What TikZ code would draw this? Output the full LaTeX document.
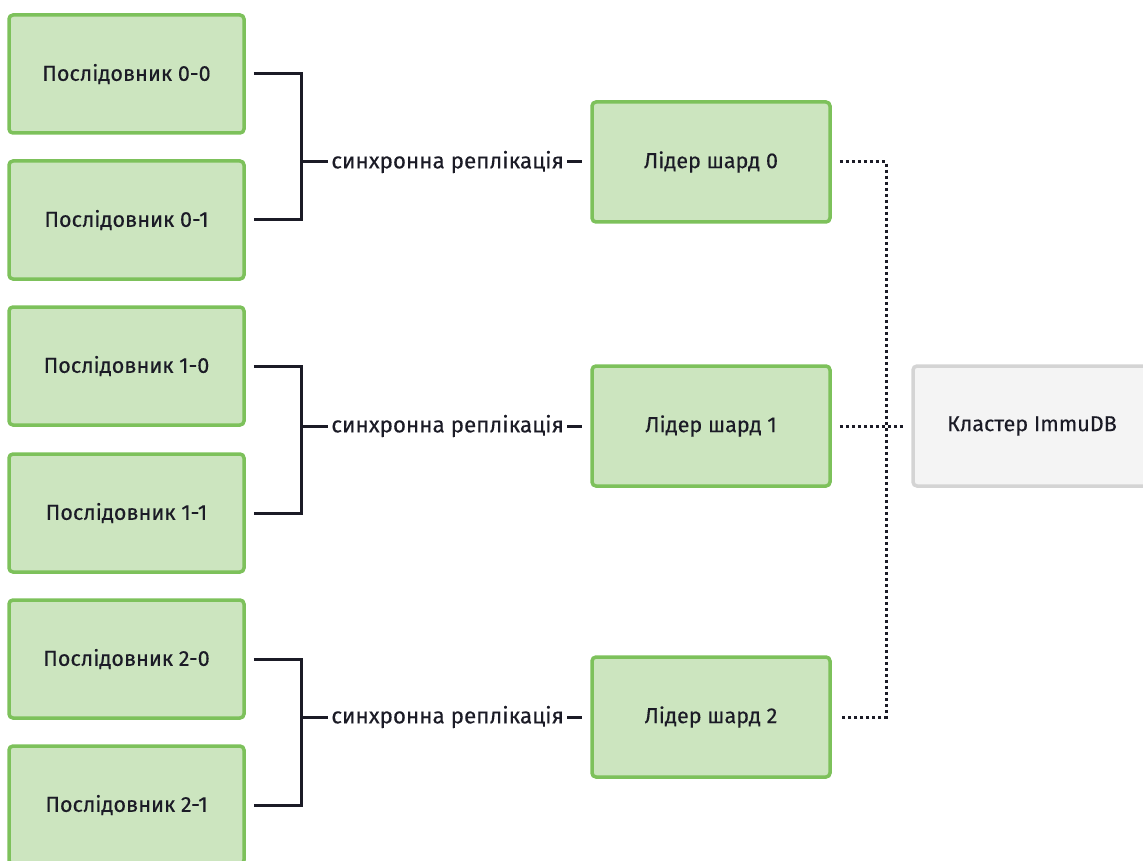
\documentclass[tikz,border=0pt]{standalone}
\usepackage{fontspec}
\setmainfont{Fira Sans}[FakeBold=0.25]
\definecolor{gfill}{HTML}{CCE5BF}
\definecolor{gdraw}{HTML}{7DC15B}
\definecolor{cfill}{HTML}{F4F4F4}
\definecolor{cdraw}{HTML}{D4D4D4}
\definecolor{ink}{HTML}{1B1B26}
\tikzset{
  gbox/.style={draw=gdraw, fill=gfill, line width=3.5pt, rounded corners=4pt, minimum width=235pt, minimum height=118pt, inner sep=0pt, text=ink, font=\fontsize{21.6}{26}\selectfont},
  lbox/.style={gbox, minimum width=238pt, minimum height=120pt},
  cbox/.style={draw=cdraw, fill=cfill, line width=3.5pt, rounded corners=4pt, minimum width=238pt, minimum height=120pt, inner sep=0pt, text=ink, font=\fontsize{21.6}{26}\selectfont},
  conn/.style={draw=ink, line width=3pt},
  dotline/.style={draw=ink, line width=3pt, dash pattern=on 3pt off 3pt},
  lab/.style={fill=white, inner sep=3pt, text=ink, font=\fontsize{22.4}{26}\selectfont}
}
\begin{document}
\begin{tikzpicture}[x=1pt,y=-1pt]
\useasboundingbox (0,0) rectangle (1143,861);
\clip (0,0) rectangle (1143,861);
\node[gbox] (f00) at (126.5,74) {Послідовник 0-0};
\node[gbox] (f01) at (126.5,220) {Послідовник 0-1};
\node[gbox] (f10) at (126.5,366) {Послідовник 1-0};
\node[gbox] (f11) at (126.5,513) {Послідовник 1-1};
\node[gbox] (f20) at (126.5,659) {Послідовник 2-0};
\node[gbox] (f21) at (126.5,805) {Послідовник 2-1};
\node[lbox] (l0) at (711,162) {Лідер шард 0};
\node[lbox] (l1) at (711,426) {Лідер шард 1};
\node[lbox] (l2) at (711,717) {Лідер шард 2};
\node[cbox] (cl) at (1032,426) {Кластер ImmuDB};
\coordinate (b0) at (301,162);
\coordinate (b1) at (301,426);
\coordinate (b2) at (301,717);
\coordinate (j) at (886,426);
\draw[conn] ([xshift=8pt]f00.east) -| (b0) |- ([xshift=8pt]f01.east);
\draw[conn] ([xshift=8pt]f10.east) -| (b1) |- ([xshift=8pt]f11.east);
\draw[conn] ([xshift=8pt]f20.east) -| (b2) |- ([xshift=8pt]f21.east);
\draw[conn] (b0) -- node[lab, xshift=6pt]{синхронна реплікація} ([xshift=-8pt]l0.west);
\draw[conn] (b1) -- node[lab, xshift=6pt]{синхронна реплікація} ([xshift=-8pt]l1.west);
\draw[conn] (b2) -- node[lab, xshift=6pt]{синхронна реплікація} ([xshift=-8pt]l2.west);
\draw[dotline] ([xshift=8pt]l0.east) -| (j) |- ([xshift=8pt]l2.east);
\draw[dotline] ([xshift=8pt]l1.east) -- ([xshift=-8pt]cl.west);
\end{tikzpicture}
\end{document}
